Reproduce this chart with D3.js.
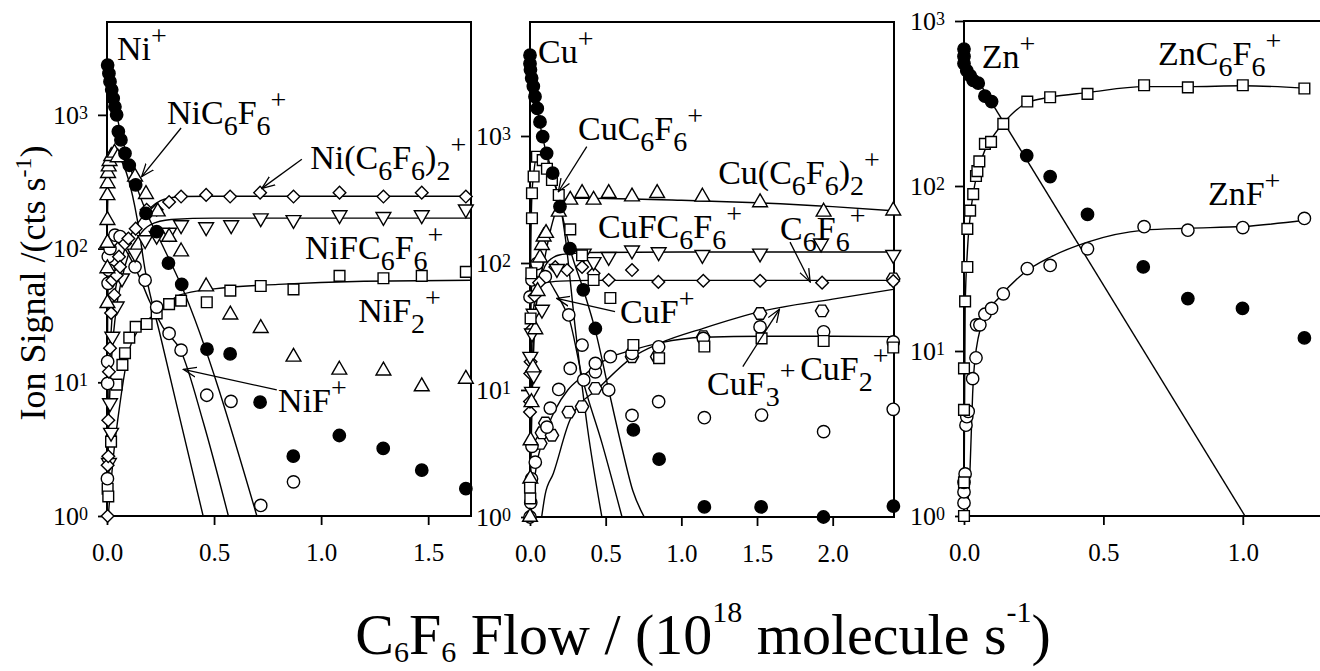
<!DOCTYPE html>
<html lang="en">
<head>
<meta charset="UTF-8">
<title>Ion signal vs C6F6 flow</title>
<style>
    body {
        margin: 0;
        background: #fff;
    }
    svg {
        display: block;
        font-family: "Liberation Serif", "Times New Roman", serif;
    }
    svg text { font-family: "Liberation Serif", "Times New Roman", serif; white-space: pre; }
    .frame { fill: none; stroke: #000; stroke-width: 2; }
    .fit { fill: none; stroke: #000; stroke-width: 1.4; }
    .pt { stroke: #000; stroke-width: 1.4; }
    .arrow { stroke: #000; stroke-width: 1.3; fill: none; }
</style>
</head>
<body>
<svg id="chart" width="1320" height="671"></svg>

<script src="https://d3js.org/d3.v7.min.js"></script>
<script>
// ---- Ni panel ----
const niPlusX = [0.003, 0.009, 0.014, 0.022, 0.029, 0.037, 0.045, 0.053, 0.065, 0.084, 0.104, 0.134, 0.182, 0.232, 0.287, 0.349, 0.467, 0.575, 0.715, 0.870, 1.085, 1.290, 1.470, 1.676];
const niPlusY = [2360, 2040, 1770, 1540, 1330, 1150, 1000, 750, 650, 515, 420, 300, 183, 134, 78, 54, 17.7, 16.3, 7.1, 2.8, 4.0, 3.2, 2.2, 1.6];
const niC6F6X = [0.002, 0.002, 0.002, 0.002, 0.002, 0.003, 0.005, 0.008, 0.012, 0.020, 0.035, 0.050, 0.131, 0.182, 0.237, 0.290, 0.346, 0.463, 0.576, 0.718, 0.871, 1.085, 1.291, 1.470, 1.676];
const niC6F6Y = [39, 71, 110, 163, 250, 307, 366, 410, 450, 490, 520, 480, 344, 255, 189, 122, 95, 52, 32, 25.4, 15.5, 12.4, 12.2, 9.3, 10.6];
const niDimerX = [0.003, 0.003, 0.006, 0.006, 0.009, 0.014, 0.019, 0.025, 0.034, 0.045, 0.056, 0.061, 0.084, 0.100, 0.134, 0.185, 0.232, 0.290, 0.346, 0.463, 0.575, 0.715, 0.871, 1.086, 1.291, 1.470, 1.676];
const niDimerY = [1.0, 2.4, 2.8, 5.2, 12, 18, 33, 58, 45, 63, 87, 73, 109, 119, 141, 195, 195, 223, 245, 252, 245, 262, 245, 262, 245, 262, 245];
const niFC6F6X = [0.009, 0.014, 0.019, 0.025, 0.045, 0.070, 0.131, 0.178, 0.232, 0.290, 0.346, 0.463, 0.580, 0.718, 0.871, 1.086, 1.291, 1.470, 1.676];
const niFC6F6Y = [2.5, 7, 4.2, 22, 37, 60, 92, 116, 125, 132, 150, 145, 150, 169, 164, 178, 173, 178, 197];
const niF2X = [0.003, 0.006, 0.019, 0.045, 0.072, 0.084, 0.104, 0.134, 0.185, 0.232, 0.290, 0.346, 0.466, 0.576, 0.718, 0.871, 1.086, 1.291, 1.470, 1.676];
const niF2Y = [1.6, 1.4, 3.6, 9.6, 13.5, 16.5, 21.6, 26, 27.3, 32.8, 38.4, 40.8, 39.7, 48.5, 52.5, 49.5, 62.5, 60, 62.5, 67];
const niFX = [0.002, 0.003, 0.003, 0.005, 0.006, 0.009, 0.014, 0.022, 0.037, 0.061, 0.131, 0.178, 0.232, 0.290, 0.346, 0.466, 0.579, 0.718, 0.871];
const niFY = [1.9, 9.8, 14.3, 55, 87, 69, 100, 116, 126, 123, 73, 58, 36.5, 23.2, 17.4, 8.0, 7.2, 1.2, 1.8];

// fitted curves
const niPlusFitX = [0, 0.045, 0.104, 0.182, 0.26, 0.349, 0.70];
const niPlusFitY = [2450, 1000, 430, 190, 105, 52, 1];
const niC6F6FitX = [0, 0.005, 0.015, 0.03, 0.06, 0.1, 0.14, 0.178, 0.25, 0.33, 0.449];
const niC6F6FitY = [100, 280, 450, 500, 470, 330, 170, 69, 22, 6.3, 1];
const niDimerFitX = [0, 0.005, 0.01, 0.02, 0.04, 0.07, 0.1, 0.15, 0.2, 0.25, 0.3, 0.35, 0.5, 1.0, 1.7];
const niDimerFitY = [1, 4, 10, 25, 50, 85, 115, 160, 200, 228, 240, 245, 246, 246, 246];
const niFC6F6FitX = [0, 0.005, 0.01, 0.02, 0.04, 0.07, 0.1, 0.15, 0.2, 0.3, 0.5, 1.0, 1.7];
const niFC6F6FitY = [1, 3, 6, 14, 32, 60, 90, 125, 150, 165, 169, 169, 169];
const niF2FitX = [0.006, 0.03, 0.061, 0.1, 0.146, 0.232, 0.341, 0.5, 0.8, 1.2, 1.7];
const niF2FitY = [1, 2.8, 7, 16.5, 24.6, 32.8, 45, 50, 54, 57, 58];
const niFFitX = [0, 0.003, 0.01, 0.025, 0.05, 0.1, 0.15, 0.2, 0.26, 0.346, 0.45, 0.567];
const niFFitY = [1, 30, 90, 120, 118, 90, 62, 40, 26, 17, 5, 1];

// ---- Cu panel ----
const cuPlusX = [0, 0, 0.003, 0.011, 0.022, 0.033, 0.048, 0.066, 0.084, 0.110, 0.150, 0.198, 0.264, 0.352, 0.432, 0.683, 0.853, 1.152, 1.527, 1.939, 2.401];
const cuPlusY = [4330, 3710, 3320, 2860, 2460, 2040, 1650, 1290, 990, 730, 510, 278, 130, 61.5, 30.5, 4.85, 2.85, 1.2, 1.2, 1.0, 1.22];
const cuC6F6X = [0, 0.002, 0.004, 0.009, 0.013, 0.013, 0.024, 0.046, 0.084, 0.112, 0.145, 0.190, 0.266, 0.344, 0.420, 0.531, 0.683, 0.853, 1.152, 1.530, 1.940, 2.400];
const cuC6F6Y = [1.7, 1.4, 36.6, 83, 225, 354, 480, 687, 645, 552, 450, 343, 184, 115, 73.5, 53, 22.6, 17.8, 22, 25.5, 24.3, 21.6];
const cuDimerX = [0, 0.002, 0.004, 0.01, 0.02, 0.035, 0.05, 0.066, 0.079, 0.090, 0.106, 0.190, 0.266, 0.344, 0.420, 0.520, 0.674, 0.840, 1.139, 1.520, 1.940, 2.400];
const cuDimerY = [1, 2, 4, 8, 15, 30, 60, 110, 138, 161, 172, 253, 314, 354, 314, 354, 333, 354, 332, 300, 253, 258];
const cuFC6F6X = [0.002, 0.013, 0.013, 0.024, 0.024, 0.079, 0.178, 0.355, 0.420, 0.520, 0.674, 0.850, 1.139, 1.520, 1.923, 2.400];
const cuFC6F6Y = [18.3, 9.7, 28, 13.1, 40, 43, 90, 119, 102, 112, 126, 122, 116, 119, 143, 116];
const c6f6X = [0, 0, 0.002, 0.004, 0.010, 0.030, 0.060, 0.167, 0.245, 0.344, 0.420, 0.520, 0.674, 0.848, 1.145, 1.520, 1.930, 2.400];
const c6f6Y = [6.7, 8.1, 13.5, 16.7, 30, 55, 70, 93, 88, 93, 83, 73.5, 88, 71, 72.5, 72.5, 70, 72];
const cuFX = [0, 0.013, 0.046, 0.101, 0.256, 0.344, 0.520, 0.674, 0.850, 1.152, 1.530, 1.940, 2.400];
const cuFY = [54, 73.5, 99, 78, 39, 22.6, 10, 6.3, 8.1, 6.05, 6.35, 4.7, 7.05];
const cuF2X = [0, 0.005, 0.010, 0.013, 0.035, 0.112, 0.134, 0.190, 0.266, 0.355, 0.432, 0.432, 0.531, 0.674, 0.850, 1.145, 1.520, 1.940, 2.400];
const cuF2Y = [1.0, 1.3, 2.0, 3.6, 2.7, 5.1, 7.2, 10.1, 14.8, 12, 13.9, 16.2, 18.3, 19.4, 21.9, 25.5, 31.4, 28.7, 23.9];
const cuF3X = [0.068, 0.079, 0.101, 0.145, 0.256, 0.344, 0.432, 0.674, 0.840, 1.145, 1.520, 1.930, 2.400];
const cuF3Y = [3.8, 4.6, 5.5, 4.4, 6.7, 7.4, 10.3, 18.3, 18.3, 26.3, 40, 42, 75];

const cuPlusFitX = [0, 0.05, 0.1, 0.15, 0.2, 0.264, 0.352, 0.43, 0.52, 0.61, 0.68, 0.755];
const cuPlusFitY = [4400, 1600, 800, 510, 280, 130, 62, 30, 10, 3.4, 1.6, 1];
const cuC6F6FitX = [0, 0.005, 0.013, 0.024, 0.046, 0.084, 0.112, 0.145, 0.19, 0.233, 0.3, 0.38, 0.475];
const cuC6F6FitY = [20, 120, 350, 500, 690, 640, 560, 460, 330, 160, 30, 5, 1];
const cuDimerFitX = [0, 0.01, 0.02, 0.035, 0.06, 0.09, 0.13, 0.167, 0.21, 0.26, 0.5, 1.0, 1.5, 2.0, 2.4];
const cuDimerFitY = [1, 5, 15, 38, 70, 99, 170, 246, 300, 323, 322, 312, 298, 278, 258];
const cuFC6F6FitX = [0, 0.005, 0.01, 0.02, 0.04, 0.07, 0.1, 0.15, 0.2, 0.3, 0.4, 1.0, 2.4];
const cuFC6F6FitY = [1, 5, 10, 22, 45, 75, 95, 110, 116, 119, 121, 122, 122];
const c6f6FitX = [0, 0.003, 0.008, 0.015, 0.03, 0.06, 0.1, 0.2, 0.4, 1.0, 2.4];
const c6f6FitY = [1, 5, 15, 30, 50, 65, 70, 72, 73, 73, 73];
const cuFFitX = [0, 0.004, 0.013, 0.03, 0.05, 0.1, 0.15, 0.2, 0.26, 0.344, 0.476, 0.608];
const cuFFitY = [1, 30, 75, 100, 100, 82, 65, 51, 36, 12.7, 3.8, 1];
const cuF2FitX = [0.005, 0.035, 0.1, 0.167, 0.25, 0.344, 0.52, 0.674, 0.86, 1.145, 1.6, 2.0, 2.4];
const cuF2FitY = [1, 2.2, 4.5, 7.0, 10, 12.7, 17.8, 20.6, 23.5, 26, 26.5, 26.5, 26.3];
const cuF3FitX = [0.077, 0.1, 0.154, 0.264, 0.463, 0.683, 0.859, 1.145, 1.52, 2.0, 2.4];
const cuF3FitY = [1, 1.5, 2.2, 5.8, 10.6, 18.3, 23.4, 30.6, 41.4, 52, 62];

// ---- Zn panel ----
const znPlusX = [0, 0, 0, 0.010, 0.022, 0.033, 0.051, 0.075, 0.099, 0.225, 0.309, 0.443, 0.643, 0.803, 0.999, 1.221];
const znPlusY = [676, 610, 552, 500, 467, 436, 420, 350, 325, 153, 114, 67.2, 32.3, 20.8, 18.1, 12.0];
const znC6F6X = [0, 0, 0, 0, 0.004, 0.012, 0.012, 0.022, 0.033, 0.043, 0.048, 0.055, 0.075, 0.097, 0.141, 0.227, 0.309, 0.443, 0.646, 0.803, 1.000, 1.221];
const znC6F6Y = [1.0, 1.6, 4.4, 7.85, 20, 32.3, 55, 70.9, 89.3, 115, 123, 141, 180, 185, 238, 325, 345, 362, 408, 396, 408, 390];
const znFX = [0, 0, 0, 0.004, 0.007, 0.010, 0.015, 0.031, 0.043, 0.045, 0.057, 0.075, 0.099, 0.141, 0.227, 0.309, 0.443, 0.646, 0.803, 1.000, 1.221];
const znFY = [1.2, 1.4, 1.6, 1.8, 3.55, 4.0, 4.3, 6.8, 9.1, 14.4, 14.4, 16.7, 18.1, 22.2, 31.6, 33, 41.6, 56.7, 54, 56, 63.6];

const znPlusFitX = [0, 1.008];
const znPlusFitY = [600, 1];
const znC6F6FitX = [0, 0.004, 0.012, 0.022, 0.033, 0.048, 0.075, 0.1, 0.141, 0.227, 0.309, 0.443, 0.646, 0.803, 1.0, 1.221];
const znC6F6FitY = [1, 18, 40, 65, 90, 120, 165, 195, 240, 320, 345, 368, 400, 400, 405, 392];
const znFFitX = [0.01, 0.022, 0.031, 0.039, 0.069, 0.129, 0.213, 0.309, 0.443, 0.646, 0.803, 1.0, 1.221];
const znFFitY = [1, 2.0, 5.5, 8.8, 15.4, 21.3, 29.5, 37, 45.7, 54, 55.5, 56.8, 62];

// ticks
const yTickValues = [1, 10, 100, 1000];
const niXTicks = [0, 0.5, 1.0, 1.5];
const cuXTicks = [0, 0.5, 1.0, 1.5, 2.0];
const znXTicks = [0, 0.5, 1.0];

// label text, anchored at (flow, signal); arrow = [from x, from y, to x, to y]
const niLabels = [
    { t: "Ni^+", x: 0.047, y: 2575 },
    { t: "NiC_6F_6^+", x: 0.280, y: 855, arrow: [0.346, 798, 0.162, 345] },
    { t: "Ni(C_6F_6)_2^+", x: 0.949, y: 394, arrow: [0.910, 466, 0.723, 282] },
    { t: "NiFC_6F_6^+", x: 0.925, y: 83.6 },
    { t: "NiF_2^+", x: 1.173, y: 28.4 },
    { t: "NiF^+", x: 0.799, y: 6.03, arrow: [0.793, 8.76, 0.357, 12.5] }
];
const cuLabels = [
    { t: "Cu^+", x: 0.053, y: 3780 },
    { t: "CuC_6F_6^+", x: 0.317, y: 930, arrow: [0.375, 824, 0.187, 364] },
    { t: "Cu(C_6F_6)_2^+", x: 1.243, y: 419 },
    { t: "CuFC_6F_6^+", x: 0.449, y: 157 },
    { t: "C_6F_6^+", x: 1.652, y: 152, arrow: [1.718, 146, 1.851, 70.9] },
    { t: "CuF^+", x: 0.595, y: 33.7, arrow: [0.562, 41.4, 0.176, 52.7] },
    { t: "CuF_3^+", x: 1.170, y: 9.13, arrow: [1.406, 15.3, 1.648, 43.2] },
    { t: "CuF_2^+", x: 1.785, y: 12.0 }
];
const znLabels = [
    { t: "Zn^+", x: 0.0635, y: 517 },
    { t: "ZnC_6F_6^+", x: 0.696, y: 541 },
    { t: "ZnF^+", x: 0.875, y: 76.7 }
];

// hexagon symbol, d3 has none
const hexagon = {
    draw(ctx, size) {
        const r = Math.sqrt(size / (1.5 * Math.sqrt(3)));
        for (let i = 0; i < 6; i++) {
            const a = Math.PI / 3 * i;
            if (i === 0) ctx.moveTo(r * Math.cos(a), r * Math.sin(a));
            else ctx.lineTo(r * Math.cos(a), r * Math.sin(a));
        }
        ctx.closePath();
    }
};
const shapes = {
    fcircle: { type: d3.symbolCircle, size: 120, fill: "#000", rot: 0 },
    circle:  { type: d3.symbolCircle, size: 120, fill: "#fff", rot: 0 },
    square:  { type: d3.symbolSquare, size: 115, fill: "#fff", rot: 0 },
    tri:     { type: d3.symbolTriangle, size: 95, fill: "#fff", rot: 0 },
    tridown: { type: d3.symbolTriangle, size: 95, fill: "#fff", rot: 180 },
    diamond: { type: d3.symbolSquare, size: 80, fill: "#fff", rot: 45 },
    hex:     { type: hexagon, size: 115, fill: "#fff", rot: 0 }
};

const panels = [
    {
        id: "ni", left: 107, right: 471, top: 22, bottom: 516, xMax: 1.70, yMax: 4950, xTicks: niXTicks, box: true,
        fits: [[niPlusFitX, niPlusFitY], [niC6F6FitX, niC6F6FitY], [niDimerFitX, niDimerFitY],
               [niFC6F6FitX, niFC6F6FitY], [niF2FitX, niF2FitY], [niFFitX, niFFitY]],
        series: [[niF2X, niF2Y, "square"], [niFX, niFY, "circle"], [niFC6F6X, niFC6F6Y, "tridown"],
                 [niDimerX, niDimerY, "diamond"], [niC6F6X, niC6F6Y, "tri"], [niPlusX, niPlusY, "fcircle"]],
        labels: niLabels
    },
    {
        id: "cu", left: 530, right: 894, top: 22, bottom: 517, xMax: 2.405, yMax: 7900, xTicks: cuXTicks, box: true,
        fits: [[cuPlusFitX, cuPlusFitY], [cuC6F6FitX, cuC6F6FitY], [cuDimerFitX, cuDimerFitY],
               [cuFC6F6FitX, cuFC6F6FitY], [c6f6FitX, c6f6FitY], [cuFFitX, cuFFitY],
               [cuF2FitX, cuF2FitY], [cuF3FitX, cuF3FitY]],
        series: [[cuF3X, cuF3Y, "hex"], [cuF2X, cuF2Y, "circle"], [cuFX, cuFY, "circle"], [c6f6X, c6f6Y, "diamond"],
                 [cuFC6F6X, cuFC6F6Y, "tridown"], [cuDimerX, cuDimerY, "tri"], [cuC6F6X, cuC6F6Y, "square"],
                 [cuPlusX, cuPlusY, "fcircle"]],
        labels: cuLabels
    },
    {
        id: "zn", left: 964, right: 1320, top: 21, bottom: 516, xMax: 1.277, yMax: 1000, xTicks: znXTicks, box: false,
        fits: [[znPlusFitX, znPlusFitY], [znC6F6FitX, znC6F6FitY], [znFFitX, znFFitY]],
        series: [[znFX, znFY, "circle"], [znC6F6X, znC6F6Y, "square"], [znPlusX, znPlusY, "fcircle"]],
        labels: znLabels
    }
];

// "NiC_6F_6^+" -> pieces with level -1 (sub), 0, 1 (sup)
function parseRich(str) {
    const out = [];
    let buf = "";
    for (let i = 0; i < str.length; i++) {
        const c = str[i];
        if (c === "_" || c === "^") {
            if (buf) { out.push({ t: buf, lvl: 0 }); buf = ""; }
            let t;
            if (str[i + 1] === "{") {
                const j = str.indexOf("}", i);
                t = str.slice(i + 2, j);
                i = j;
            } else {
                t = str[i + 1];
                i++;
            }
            out.push({ t: t, lvl: c === "_" ? -1 : 1 });
        } else {
            buf += c;
        }
    }
    if (buf) out.push({ t: buf, lvl: 0 });
    return out;
}

function richText(sel, str, size, small, subDy, supDy) {
    let cur = 0;
    parseRich(str).forEach(p => {
        const target = p.lvl === -1 ? subDy : (p.lvl === 1 ? supDy : 0);
        sel.append("tspan")
            .attr("font-size", p.lvl ? small : size)
            .attr("dy", target - cur)
            .text(p.t);
        cur = target;
    });
}

const svg = d3.select("#chart");
const defs = svg.append("defs");
defs.append("marker")
    .attr("id", "head")
    .attr("viewBox", "0 -6 14 12")
    .attr("refX", 13).attr("refY", 0)
    .attr("markerWidth", 14).attr("markerHeight", 12)
    .attr("markerUnits", "userSpaceOnUse")
    .attr("orient", "auto")
    .append("path")
    .attr("d", "M0,-5L13,0L0,5")
    .attr("fill", "none").attr("stroke", "#000").attr("stroke-width", 1.3);

const serif = '"Liberation Serif", "Times New Roman", serif';

panels.forEach(p => {
    const x = d3.scaleLinear().domain([0, p.xMax]).range([p.left, p.right]);
    const y = d3.scaleLog().domain([1, p.yMax]).range([p.bottom, p.top]);
    const g = svg.append("g").attr("class", "panel-" + p.id);

    defs.append("clipPath").attr("id", "clip-" + p.id)
        .append("rect")
        .attr("x", p.left).attr("y", p.top)
        .attr("width", p.right - p.left).attr("height", p.bottom - p.top);

    // axes
    const yAxis = d3.axisLeft(y).tickValues(yTickValues).tickSize(9).tickSizeOuter(0).tickPadding(10).tickFormat(() => "10");
    const ya = g.append("g").attr("transform", `translate(${p.left},0)`).call(yAxis);
    ya.attr("font-family", null).style("font-family", serif);
    ya.select(".domain").remove();
    ya.selectAll(".tick line").attr("stroke-width", 1.8);
    ya.selectAll(".tick text")
        .attr("font-size", 26)
        .style("font-family", serif)
        .append("tspan")
        .attr("font-size", 18)
        .attr("dy", -5)
        .text(d => Math.round(Math.log10(d)));

    const xAxis = d3.axisBottom(x).tickValues(p.xTicks).tickSize(9).tickSizeOuter(0).tickPadding(18).tickFormat(d3.format(".1f"));
    const xa = g.append("g").attr("transform", `translate(0,${p.bottom})`).call(xAxis);
    xa.attr("font-family", null).style("font-family", serif);
    xa.select(".domain").remove();
    xa.selectAll(".tick line").attr("stroke-width", 1.8);
    xa.selectAll(".tick text").attr("font-size", 25).style("font-family", serif);

    // frame
    if (p.box) {
        g.append("rect").attr("class", "frame")
            .attr("x", p.left).attr("y", p.top)
            .attr("width", p.right - p.left).attr("height", p.bottom - p.top);
    } else {
        g.append("path").attr("class", "frame")
            .attr("d", `M${p.right},${p.top}H${p.left}V${p.bottom}H${p.right}`);
    }

    // fitted curves
    const fg = g.append("g").attr("clip-path", `url(#clip-${p.id})`);
    p.fits.forEach(([fx, fy]) => {
        const line = d3.line()
            .x(i => x(fx[i]))
            .y(i => y(fy[i]))
            .curve(d3.curveMonotoneX);
        fg.append("path").attr("class", "fit").attr("d", line(d3.range(fx.length)));
    });

    // points
    p.series.forEach(([xs, ys, shapeName]) => {
        const s = shapes[shapeName];
        const sym = d3.symbol().type(s.type).size(s.size);
        g.append("g").selectAll("path")
            .data(d3.range(xs.length))
            .join("path")
            .attr("class", "pt")
            .attr("d", sym)
            .attr("fill", s.fill)
            .attr("transform", i => `translate(${x(xs[i])},${y(ys[i])}) rotate(${s.rot})`);
    });

    // labels and arrows
    p.labels.forEach(l => {
        if (l.arrow) {
            g.append("line").attr("class", "arrow")
                .attr("x1", x(l.arrow[0])).attr("y1", y(l.arrow[1]))
                .attr("x2", x(l.arrow[2])).attr("y2", y(l.arrow[3]))
                .attr("marker-end", "url(#head)");
        }
        const t = g.append("text")
            .attr("x", x(l.x)).attr("y", y(l.y))
            .attr("fill", "#000");
        richText(t, l.t, 34, 28, 11, -15);
    });
});

// axis titles
const yTitle = svg.append("text")
    .attr("transform", "translate(45,283) rotate(-90)")
    .attr("text-anchor", "middle");
richText(yTitle, "Ion Signal /(cts s^{-1})", 36, 24, 10, -14);

const xTitle = svg.append("text")
    .attr("x", 703).attr("y", 654)
    .attr("text-anchor", "middle");
richText(xTitle, "C_6F_6 Flow / (10^{18} molecule s^{-1})", 58, 30, 8, -32);
</script>
</body>
</html>
